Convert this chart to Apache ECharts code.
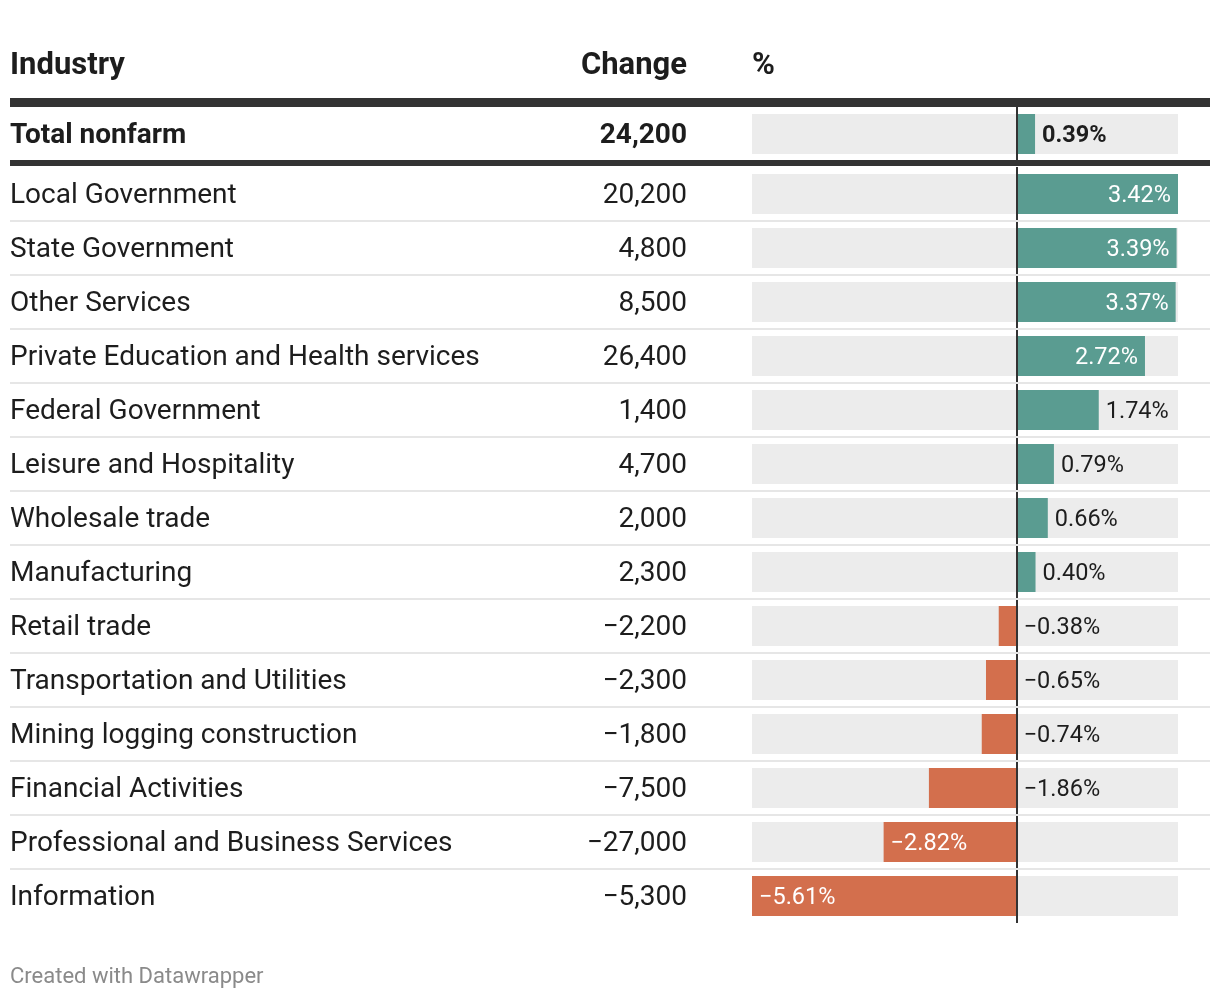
<!DOCTYPE html>
<html>
<head>
<meta charset="utf-8">
<script src="https://cdn.jsdelivr.net/npm/echarts@6/dist/echarts.min.js"></script>
<style>
html,body{margin:0;padding:0;background:#fff;}
#chart{width:1220px;height:998px;}
</style>
</head>
<body>
<div id="chart"></div>
<script>
// ---- data ----
const headers = ['Industry', 'Change', '%'];
const totalName = ['Total nonfarm'];
const totalChange = [24200];
const totalPct = [0.39];
const industries = ['Local Government', 'State Government', 'Other Services',
  'Private Education and Health services', 'Federal Government', 'Leisure and Hospitality',
  'Wholesale trade', 'Manufacturing', 'Retail trade', 'Transportation and Utilities',
  'Mining logging construction', 'Financial Activities', 'Professional and Business Services',
  'Information'];
const changes = [20200, 4800, 8500, 26400, 1400, 4700, 2000, 2300, -2200, -2300, -1800, -7500, -27000, -5300];
const pcts = [3.42, 3.39, 3.37, 2.72, 1.74, 0.79, 0.66, 0.40, -0.38, -0.65, -0.74, -1.86, -2.82, -5.61];
const footer = 'Created with Datawrapper';

// ---- style / layout ----
const FONT = 'Roboto';
const TEXT = '#1d1d1d';
const POS = '#5a9c91';
const NEG = '#d36f4d';
const BG = '#ececec';
const barLeft = 752, barRight = 1178;
const rowTop = 167, rowH = 54;
const xMin = -5.61, xMax = 3.42;

const minus = '\u2212';
function fmtChange(v){ return (v < 0 ? minus : '') + Math.abs(v).toLocaleString('en-US'); }
function fmtPct(v){ return (v < 0 ? minus : '') + Math.abs(v).toFixed(2) + '%'; }

function barItem(v, bold){
  const inside = Math.abs(v) >= 2.2;
  let position;
  if (inside) position = v >= 0 ? 'insideRight' : 'insideLeft';
  else position = 'right';
  return {
    value: v,
    itemStyle: { color: v >= 0 ? POS : NEG },
    label: {
      show: true, position: position, distance: 7, offset: [0, 2],
      formatter: fmtPct(v),
      color: inside ? '#ffffff' : TEXT,
      fontFamily: FONT, fontSize: 23.5,
      fontWeight: bold ? 'bold' : 'normal'
    }
  };
}

const zeroLine = {
  silent: true, symbol: 'none', label: { show: false },
  lineStyle: { color: '#333', width: 2, type: 'solid' },
  data: [{ xAxis: 0 }]
};

const graphics = [];
graphics.push({ type: 'text', left: 10, top: 51, style: { text: headers[0], font: 'bold 31px ' + FONT, fill: TEXT } });
graphics.push({ type: 'text', right: 1220 - 687, top: 51, style: { text: headers[1], font: 'bold 31px ' + FONT, fill: TEXT } });
graphics.push({ type: 'text', left: barLeft, top: 51, style: { text: headers[2], font: 'bold 31px ' + FONT, fill: TEXT } });
graphics.push({ type: 'rect', shape: { x: 10, y: 98, width: 1200, height: 9 }, style: { fill: '#333' }, z: 10 });
graphics.push({ type: 'rect', shape: { x: 10, y: 160, width: 1200, height: 6 }, style: { fill: '#333' }, z: 10 });
for (let i = 1; i < industries.length; i++) {
  const y = rowTop + rowH * i;
  graphics.push({ type: 'line', shape: { x1: 10, y1: y, x2: 1210, y2: y }, style: { stroke: '#e6e6e6', lineWidth: 2 }, z: 10 });
}
graphics.push({ type: 'text', left: 10, top: 966, style: { text: footer, font: '22px ' + FONT, fill: '#8a8a8a' } });

function richLabel(bold){
  return {
    fontFamily: FONT, fontSize: 28, color: TEXT,
    formatter: v => '{t|' + v + '}',
    rich: { t: { fontFamily: FONT, fontSize: 28, color: TEXT, fontWeight: bold ? 'bold' : 'normal', padding: [4, 0, 0, 0] } }
  };
}

const option = {
  animation: false,
  backgroundColor: '#fff',
  graphic: graphics,
  grid: [
    { left: barLeft, width: barRight - barLeft, top: 107, height: 54 },
    { left: barLeft, width: barRight - barLeft, top: rowTop, height: rowH * industries.length }
  ],
  xAxis: [
    { type: 'value', gridIndex: 0, min: xMin, max: xMax, show: false },
    { type: 'value', gridIndex: 1, min: xMin, max: xMax, show: false }
  ],
  yAxis: [
    { type: 'category', gridIndex: 0, data: totalName, inverse: true,
      axisLine: { show: false }, axisTick: { show: false },
      axisLabel: Object.assign(richLabel(true), { align: 'left', margin: barLeft - 10 }) },
    { type: 'category', gridIndex: 0, data: totalChange.map(fmtChange), inverse: true, position: 'left',
      axisLine: { show: false }, axisTick: { show: false },
      axisLabel: Object.assign(richLabel(true), { align: 'right', margin: barLeft - 687 }) },
    { type: 'category', gridIndex: 1, data: industries, inverse: true,
      axisLine: { show: false }, axisTick: { show: false },
      axisLabel: Object.assign(richLabel(false), { align: 'left', margin: barLeft - 10 }) },
    { type: 'category', gridIndex: 1, data: changes.map(fmtChange), inverse: true, position: 'left',
      axisLine: { show: false }, axisTick: { show: false },
      axisLabel: Object.assign(richLabel(false), { align: 'right', margin: barLeft - 687 }) }
  ],
  series: [
    { type: 'bar', xAxisIndex: 0, yAxisIndex: 0, barWidth: 40,
      showBackground: true, backgroundStyle: { color: BG },
      data: totalPct.map(v => barItem(v, true)), markLine: zeroLine },
    { type: 'bar', xAxisIndex: 1, yAxisIndex: 2, barWidth: 40,
      showBackground: true, backgroundStyle: { color: BG },
      data: pcts.map(v => barItem(v, false)), markLine: zeroLine }
  ]
};

const chart = echarts.init(document.getElementById('chart'), null, { renderer: 'canvas' });
chart.setOption(option);
</script>
</body>
</html>
